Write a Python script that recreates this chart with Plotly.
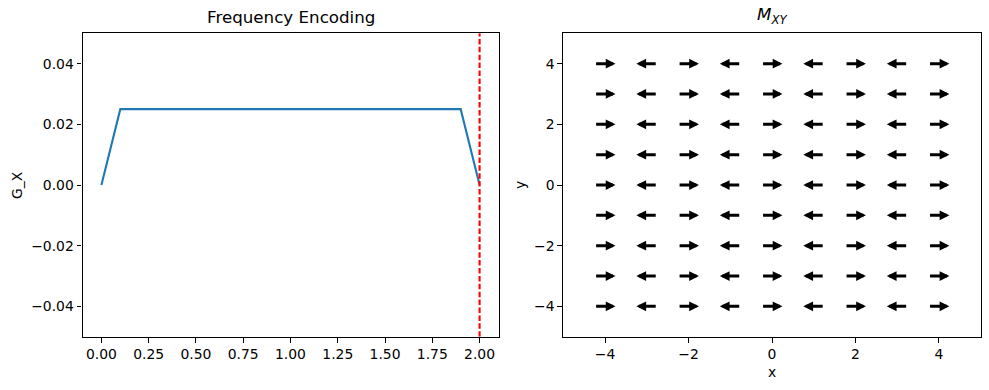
import numpy as np
import plotly.graph_objects as go

# Left panel data: gradient waveform
t_vals = [0.0, 0.1, 1.9, 2.0]
gx_vals = [0.0, 0.025, 0.025, 0.0]
readout_time = 2.0

# Right panel data: magnetization vector field
grid_x = [-4, -3, -2, -1, 0, 1, 2, 3, 4]
grid_y = [-4, -3, -2, -1, 0, 1, 2, 3, 4]
u_by_col = [1, -1, 1, -1, 1, -1, 1, -1, 1]   # direction of arrow in each column
v_by_col = [0, 0, 0, 0, 0, 0, 0, 0, 0]
arrow_len = 0.5

W, H = 989, 390
FONT = "DejaVu Sans"
FS = 13.9

def fx(px):
    return px / W

def fy(py):
    return 1 - py / H

fig = go.Figure()
fig.add_trace(go.Scatter(x=t_vals, y=gx_vals, mode="lines",
                         line=dict(color="#1f77b4", width=2.1),
                         xaxis="x", yaxis="y", showlegend=False, hoverinfo="skip"))
fig.add_trace(go.Scatter(x=[readout_time, readout_time], y=[-0.05, 0.05], mode="lines",
                         line=dict(color="red", width=2.1, dash="5.5px,2.4px"),
                         xaxis="x", yaxis="y", showlegend=False, hoverinfo="skip"))
# invisible trace to activate second axes
fig.add_trace(go.Scatter(x=[grid_x[0]], y=[grid_y[0]], mode="markers",
                         marker=dict(opacity=0), xaxis="x2", yaxis="y2",
                         showlegend=False, hoverinfo="skip"))

annotations = []
for yi in grid_y:
    for xi, u, v in zip(grid_x, u_by_col, v_by_col):
        annotations.append(dict(
            x=xi + u * arrow_len / 2, y=yi + v * arrow_len / 2,
            ax=xi - u * arrow_len / 2, ay=yi - v * arrow_len / 2,
            xref="x2", yref="y2", axref="x2", ayref="y2",
            showarrow=True, arrowhead=2, arrowwidth=3, arrowsize=0.65,
            arrowcolor="black", text="", standoff=0, startstandoff=0))

axis_common = dict(showline=True, linecolor="black", linewidth=1.1, mirror=True,
                   ticks="outside", ticklen=4.9, tickwidth=1.1, tickcolor="black",
                   showgrid=False, zeroline=False,
                   tickfont=dict(family=FONT, size=FS, color="black"))

fig.update_layout(
    width=W, height=H,
    margin=dict(l=0, r=0, t=0, b=0),
    plot_bgcolor="white", paper_bgcolor="white",
    font=dict(family=FONT, size=FS, color="black"),
    xaxis=dict(domain=[fx(82.5), fx(498.5)], range=[-0.1, 2.1], dtick=0.25, tick0=0,
               tickformat=".2f", anchor="y", **axis_common),
    yaxis=dict(domain=[fy(336.7), fy(33.3)], range=[-0.05, 0.05], dtick=0.02, tick0=0,
               tickformat=".2f", anchor="x", **axis_common),
    xaxis2=dict(domain=[fx(563.3), fx(980.7)], range=[-5, 5], dtick=2, tick0=0,
                anchor="y2", **axis_common),
    yaxis2=dict(domain=[fy(336.7), fy(33.3)], range=[-5, 5], dtick=2, tick0=0,
                anchor="x2", **axis_common),
)

text_annots = [
    dict(text="Frequency Encoding", x=fx(290.5), y=fy(29), xref="paper", yref="paper",
         xanchor="center", yanchor="bottom", showarrow=False,
         font=dict(family=FONT, size=16.7, color="black")),
    dict(text="<i>M</i><sub><i>XY</i></sub>", x=fx(772), y=fy(29), xref="paper", yref="paper",
         xanchor="center", yanchor="bottom", showarrow=False,
         font=dict(family=FONT, size=16.7, color="black")),
    dict(text="G_X", x=fx(17), y=fy(185), xref="paper", yref="paper",
         xanchor="center", yanchor="middle", textangle=-90, showarrow=False,
         font=dict(family=FONT, size=FS, color="black")),
    dict(text="y", x=fx(520), y=fy(185), xref="paper", yref="paper",
         xanchor="center", yanchor="middle", textangle=-90, showarrow=False,
         font=dict(family=FONT, size=FS, color="black")),
    dict(text="x", x=fx(772), y=fy(372), xref="paper", yref="paper",
         xanchor="center", yanchor="middle", showarrow=False,
         font=dict(family=FONT, size=FS, color="black")),
]
fig.update_layout(annotations=annotations + text_annots)

fig.write_html("out.html", config={"displayModeBar": False},
               post_script="document.body.style.margin='0';document.body.style.padding='0';")
